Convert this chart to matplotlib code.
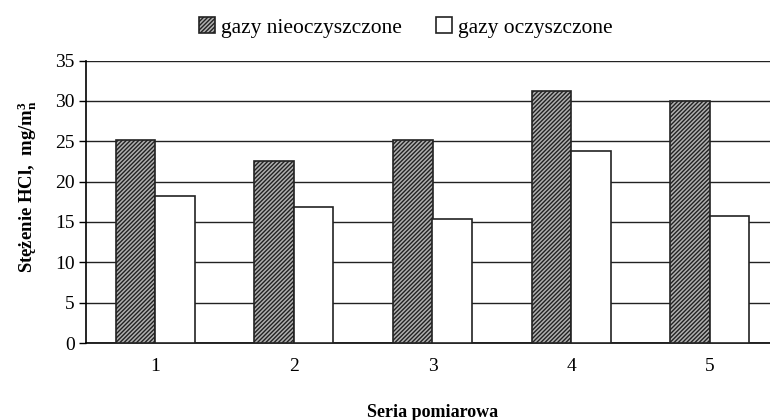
import matplotlib
matplotlib.use("Agg")
import matplotlib.pyplot as plt
import numpy as np

categories = ["1", "2", "3", "4", "5"]
raw_gas = [25.1, 22.6, 25.1, 31.2, 30.0]
clean_gas = [18.2, 16.9, 15.4, 23.8, 15.7]
series_labels = ["gazy nieoczyszczone", "gazy oczyszczone"]
y_ticks = [0, 5, 10, 15, 20, 25, 30, 35]

plt.rcParams['font.family'] = ['Liberation Serif', 'DejaVu Serif']
plt.rcParams['mathtext.fontset'] = 'custom'
plt.rcParams['mathtext.rm'] = 'Liberation Serif'
plt.rcParams['mathtext.bf'] = 'Liberation Serif:bold'
plt.rcParams['hatch.linewidth'] = 1.0
plt.rcParams['hatch.color'] = '#222222'

fig = plt.figure(figsize=(7.7, 4.2), dpi=100)
ax = fig.add_axes([86/770, 77/420, (779-86)/770, 282.5/420])

x = np.arange(1, len(categories) + 1)
w = 0.285
ax.bar(x - w/2, raw_gas, w, facecolor='#b0b0b0', edgecolor='#222222',
       hatch='////////', linewidth=1.2, label=series_labels[0], zorder=3)
ax.bar(x + w/2, clean_gas, w, facecolor='white', edgecolor='#222222',
       linewidth=1.2, label=series_labels[1], zorder=3)

ax.set_xlim(0.5, 5.5)
ax.set_ylim(0, 35)
ax.set_yticks(y_ticks)
ax.set_xticks(x)
ax.set_xticklabels(categories)
ax.yaxis.grid(True, color='#222222', linewidth=1.0, zorder=0)
ax.set_axisbelow(True)
for s in ['top', 'right']:
    ax.spines[s].set_visible(False)
ax.spines['left'].set_linewidth(1.2)
ax.spines['bottom'].set_linewidth(1.2)
ax.tick_params(axis='y', length=5, width=1, labelsize=14, pad=3)
ax.tick_params(axis='x', length=0, labelsize=14, pad=11)

ax.set_ylabel("Stężenie HCl,  mg/m$\\mathbf{^3_n}$", fontsize=13.5, fontweight='bold')
ax.yaxis.set_label_coords(-0.068, 0.555)
ax.set_xlabel("Seria pomiarowa", fontsize=13, fontweight='bold', labelpad=21)

leg = fig.legend(loc='upper center', bbox_to_anchor=(0.527, 1.005), ncol=2, frameon=False,
                 fontsize=15.5, handlelength=0.75, handleheight=0.75, handletextpad=0.25,
                 columnspacing=1.6)

fig.savefig("out.png", dpi=100)
